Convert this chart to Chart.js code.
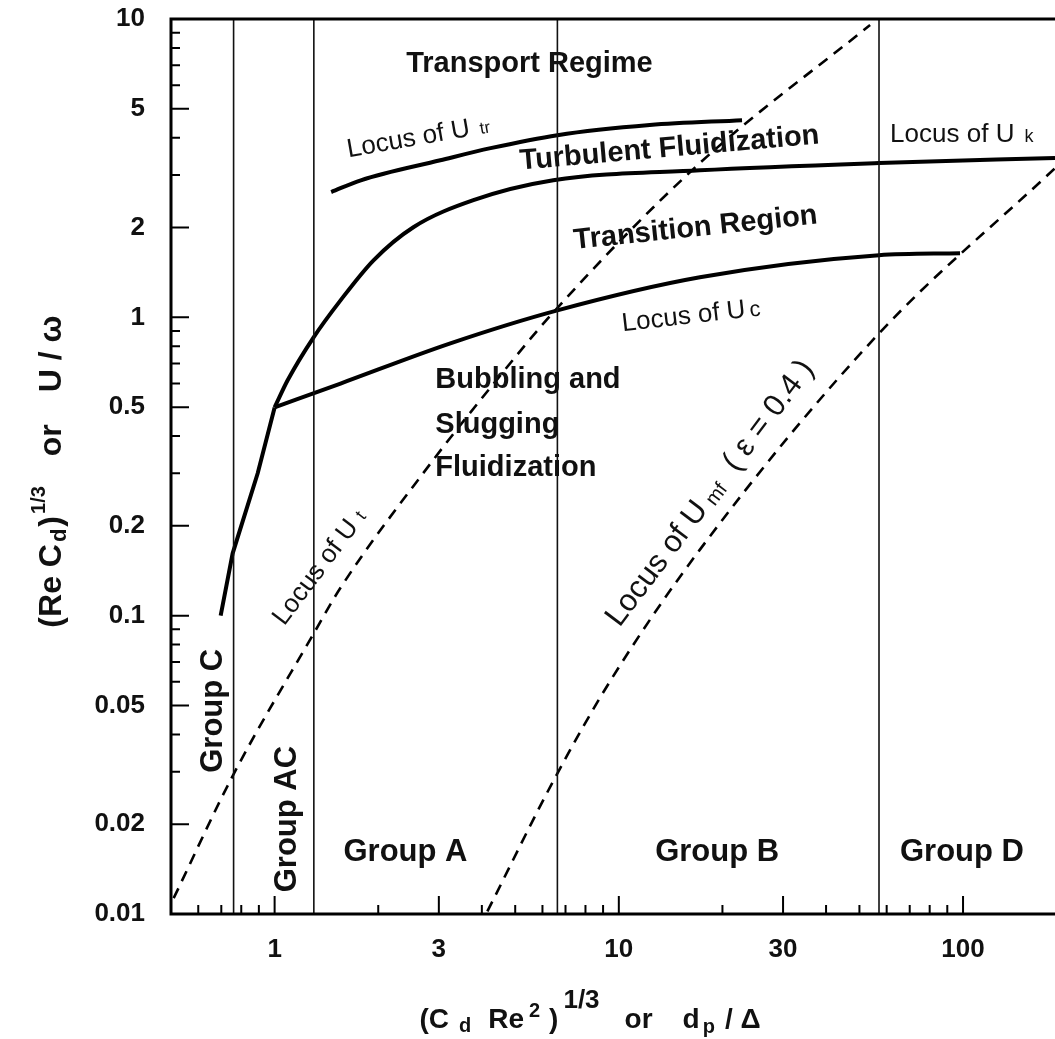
<!DOCTYPE html>
<html>
<head>
<meta charset="utf-8">
<script src="https://cdn.jsdelivr.net/npm/chart.js@4.4.1/dist/chart.umd.min.js"></script>
<style>
  html, body { margin: 0; padding: 0; background: #fff; }
  #wrap { width: 1055px; height: 1039px; position: relative; }
</style>
</head>
<body>
<div id="wrap"><canvas id="regimeChart"></canvas></div>
<script>
// Fluidization regime map on log-log axes.
// Solid lines: U_tr, U_k, U_c loci; dashed: U_t and U_mf; thin verticals: Geldart group limits.

const xTicks = [1, 3, 10, 30, 100];
const xMinorTicks = [0.6, 0.7, 0.8, 0.9, 2, 4, 5, 6, 7, 8, 9, 20, 40, 50, 60, 70, 80, 90];
const yTicks = [0.01, 0.02, 0.05, 0.1, 0.2, 0.5, 1, 2, 5, 10];
const yMinorTicks = [0.03, 0.04, 0.06, 0.07, 0.08, 0.09, 0.3, 0.4, 0.6, 0.7, 0.8, 0.9, 3, 4, 6, 7, 8, 9];
const xMin = 0.5, xMax = 185, yMin = 0.01, yMax = 10;

// group limits C | AC | A | B | D
const groupBounds = [0.76, 1.30, 6.63, 57.0];

// locus of U_tr
const utrX = [1.46, 1.78, 3.03, 4.24, 6.63, 12.3, 22.8];
const utrY = [2.63, 2.88, 3.36, 3.69, 4.08, 4.41, 4.58];

// group C boundary below the branch point
const grpCX = [0.697, 0.755, 0.893, 1.0];
const grpCY = [0.10, 0.1615, 0.30, 0.499];

// locus of U_k
const ukX = [1.0, 1.091, 1.298, 1.554, 1.938, 2.53, 3.78, 6.45, 17.2, 57.0, 185];
const ukY = [0.499, 0.615, 0.857, 1.14, 1.553, 2.005, 2.47, 2.88, 3.11, 3.29, 3.42];

// locus of U_c
const ucX = [1.0, 1.554, 3.24, 6.63, 17.2, 57.0, 98.0];
const ucY = [0.499, 0.60, 0.818, 1.055, 1.362, 1.615, 1.64];

// locus of U_t (dashed)
const utX = [0.509, 0.755, 1.298, 1.554, 2.84, 4.24, 6.45, 17.2, 53.7];
const utY = [0.0113, 0.029, 0.087, 0.124, 0.324, 0.582, 1.039, 3.29, 9.55];

// locus of U_mf, eps = 0.4 (dashed)
const umfX = [4.15, 6.45, 9.45, 17.2, 56.3, 185];
const umfY = [0.0102, 0.0279, 0.0605, 0.1665, 0.87, 3.16];

const FONT = '"Liberation Sans", Arial, Helvetica, sans-serif';
const fnt = (size, bold) => (bold ? 'bold ' : '') + size + 'px ' + FONT;

function pts(xs, ys) {
    return xs.map((v, i) => ({ x: v, y: ys[i] }));
}

function curve(label, data, opts) {
    return Object.assign({
        label: label,
        data: data,
        showLine: true,
        borderColor: '#000',
        borderWidth: 4,
        pointRadius: 0,
        fill: false,
        cubicInterpolationMode: 'monotone'
    }, opts || {});
}

// draws a run of text pieces (sub/superscripts) along a rotated baseline
function drawRich(ctx, parts, px, py, angle, align) {
    ctx.save();
    ctx.translate(px, py);
    ctx.rotate(angle * Math.PI / 180);
    ctx.textBaseline = 'alphabetic';
    ctx.textAlign = 'left';
    let total = 0;
    parts.forEach(p => {
        ctx.font = p.font;
        p.w = ctx.measureText(p.t).width;
        total += p.w + (p.gap || 0);
    });
    let cx = align === 'left' ? 0 : -total / 2;
    parts.forEach(p => {
        ctx.font = p.font;
        cx += p.gap || 0;
        ctx.fillText(p.t, cx, p.dy || 0);
        cx += p.w;
    });
    ctx.restore();
}

const regimeDecor = {
    id: 'regimeDecor',
    afterDatasetsDraw(chart) {
        const { ctx, chartArea: a } = chart;
        const sx = chart.scales.x, sy = chart.scales.y;
        const X = v => sx.getPixelForValue(v);
        const Y = v => sy.getPixelForValue(v);

        ctx.save();
        ctx.strokeStyle = '#000';
        ctx.lineWidth = 3;
        ctx.beginPath();
        ctx.moveTo(a.right, a.top);
        ctx.lineTo(a.left, a.top);
        ctx.lineTo(a.left, a.bottom);
        ctx.lineTo(a.right, a.bottom);
        ctx.stroke();

        // ticks point inward
        ctx.lineWidth = 2;
        ctx.beginPath();
        xTicks.forEach(v => { ctx.moveTo(X(v), a.bottom); ctx.lineTo(X(v), a.bottom - 18); });
        xMinorTicks.forEach(v => { ctx.moveTo(X(v), a.bottom); ctx.lineTo(X(v), a.bottom - 9); });
        yTicks.forEach(v => { ctx.moveTo(a.left, Y(v)); ctx.lineTo(a.left + 18, Y(v)); });
        yMinorTicks.forEach(v => { ctx.moveTo(a.left, Y(v)); ctx.lineTo(a.left + 9, Y(v)); });
        ctx.stroke();

        ctx.fillStyle = '#111';
        const B = fnt(29, true), N = fnt(26, false);

        drawRich(ctx, [{ t: 'Transport Regime', font: B }], X(5.5), Y(6.64), 0);
        drawRich(ctx, [{ t: 'Turbulent Fluidization', font: B }], X(14.1), Y(3.46), -5);
        drawRich(ctx, [{ t: 'Transition Region', font: B }], X(16.8), Y(1.87), -6);
        drawRich(ctx, [{ t: 'Bubbling and', font: B }], X(2.93), Y(0.578), 0, 'left');
        drawRich(ctx, [{ t: 'Slugging', font: B }], X(2.93), Y(0.411), 0, 'left');
        drawRich(ctx, [{ t: 'Fluidization', font: B }], X(2.93), Y(0.295), 0, 'left');

        drawRich(ctx, [{ t: 'Locus of U', font: N }, { t: 'tr', font: fnt(17), gap: 10 }], X(2.64), Y(3.79), -10);
        drawRich(ctx, [{ t: 'Locus of U', font: N }, { t: 'k', font: fnt(18), gap: 10 }], X(61.4), Y(3.87), 0, 'left');
        drawRich(ctx, [{ t: 'Locus of U', font: N }, { t: 'c', font: fnt(22), gap: 4 }], X(16.3), Y(0.955), -6.5);
        drawRich(ctx, [{ t: 'Locus of U', font: N }, { t: 't', font: fnt(18), gap: 8 }], X(1.406), Y(0.1405), -53);
        drawRich(ctx, [
            { t: 'Locus of U', font: fnt(31) },
            { t: 'mf', font: fnt(20), gap: 6, dy: 3 },
            { t: '( ε = 0.4 )', font: fnt(31), gap: 18 }
        ], X(19.3), Y(0.247), -53);

        const G = fnt(31, true);
        drawRich(ctx, [{ t: 'Group A', font: G }], X(2.40), Y(0.01506), 0);
        drawRich(ctx, [{ t: 'Group B', font: G }], X(19.3), Y(0.01506), 0);
        drawRich(ctx, [{ t: 'Group D', font: G }], X(99.3), Y(0.01506), 0);
        drawRich(ctx, [{ t: 'Group C', font: G }], X(0.702), Y(0.048), -90);
        drawRich(ctx, [{ t: 'Group AC', font: G }], X(1.15), Y(0.0208), -90);

        // axis titles
        const T = fnt(28, true);
        drawRich(ctx, [
            { t: '(C', font: T },
            { t: 'd', font: fnt(20, true), gap: 10, dy: 4 },
            { t: 'Re', font: T, gap: 17 },
            { t: '2', font: fnt(20, true), gap: 5, dy: -11 },
            { t: ')', font: T, gap: 9 },
            { t: '1/3', font: fnt(26, true), gap: 5, dy: -20 },
            { t: 'or', font: T, gap: 25 },
            { t: 'd', font: T, gap: 30 },
            { t: 'p', font: fnt(20, true), gap: 3, dy: 5 },
            { t: '/ Δ', font: T, gap: 10 }
        ], (a.left + a.right) / 2 - 23, a.bottom + 114, 0);

        const S = fnt(32, true);
        drawRich(ctx, [
            { t: '(Re C', font: S },
            { t: 'd', font: fnt(22, true), gap: 2, dy: 5 },
            { t: ')', font: S, gap: 2 },
            { t: '1/3', font: fnt(20, true), gap: 2, dy: -16 },
            { t: 'or', font: S, gap: 30 },
            { t: 'U / ω', font: S, gap: 32 }
        ], 61, (a.top + a.bottom) / 2 + 5, -90);

        ctx.restore();
    }
};

const datasets = [
    ...groupBounds.map((v, i) => curve('group limit ' + (i + 1),
        [{ x: v, y: yMin }, { x: v, y: yMax }],
        { borderWidth: 1.6, borderColor: '#111', cubicInterpolationMode: 'default', tension: 0 })),
    curve('U_tr', pts(utrX, utrY)),
    curve('group C', pts(grpCX, grpCY), { cubicInterpolationMode: 'default', tension: 0 }),
    curve('U_k', pts(ukX, ukY)),
    curve('U_c', pts(ucX, ucY)),
    curve('U_t', pts(utX, utY), { borderWidth: 2.6, borderDash: [11, 8] }),
    curve('U_mf', pts(umfX, umfY), { borderWidth: 2.6, borderDash: [11, 8] })
];

const tickFont = { family: FONT, size: 26, weight: 'bold' };

new Chart(document.getElementById('regimeChart'), {
    type: 'scatter',
    data: { datasets: datasets },
    options: {
        responsive: true,
        maintainAspectRatio: false,
        animation: false,
        layout: { padding: { top: 19, right: 0, bottom: 0, left: 0 } },
        plugins: {
            legend: { display: false },
            tooltip: { enabled: false }
        },
        scales: {
            x: {
                type: 'logarithmic',
                min: xMin,
                max: xMax,
                afterBuildTicks: s => { s.ticks = xTicks.map(v => ({ value: v })); },
                afterFit: s => { s.height = 125; s.paddingLeft = 0; s.paddingRight = 0; },
                grid: { display: false },
                border: { display: false },
                ticks: {
                    autoSkip: false,
                    maxRotation: 0,
                    padding: 12,
                    color: '#111',
                    font: tickFont,
                    callback: v => String(v)
                }
            },
            y: {
                type: 'logarithmic',
                min: yMin,
                max: yMax,
                afterBuildTicks: s => { s.ticks = yTicks.map(v => ({ value: v })); },
                afterFit: s => { s.width = 171; s.paddingTop = 0; s.paddingBottom = 0; },
                grid: { display: false },
                border: { display: false },
                ticks: {
                    autoSkip: false,
                    padding: 18,
                    color: '#111',
                    font: tickFont,
                    callback: v => String(v)
                }
            }
        }
    },
    plugins: [regimeDecor]
});
</script>
</body>
</html>
